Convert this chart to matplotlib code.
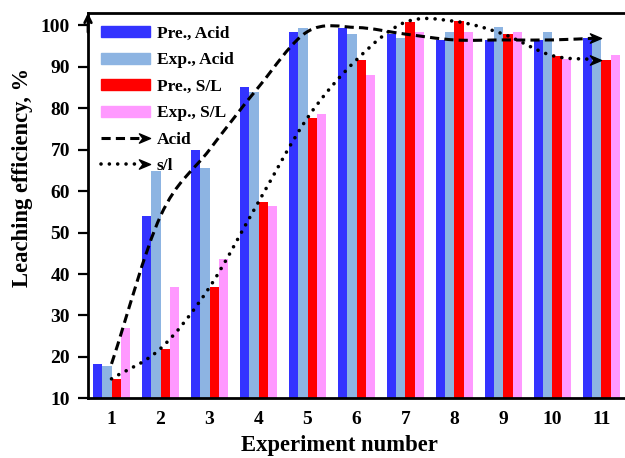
import numpy as np
import matplotlib
matplotlib.use('Agg')
import matplotlib.pyplot as plt
from matplotlib.path import Path
from matplotlib.patches import PathPatch, Patch
from matplotlib.lines import Line2D
from matplotlib.legend_handler import HandlerBase

plt.rcParams['font.family'] = ['Liberation Serif', 'DejaVu Serif']
plt.rcParams['font.weight'] = 'bold'

# data
experiments = np.arange(1, 12)
pre_acid = [18.3, 54.0, 70.0, 85.1, 98.5, 99.5, 97.9, 96.5, 96.5, 96.5, 97.0]
exp_acid = [17.7, 64.9, 65.5, 83.9, 99.5, 97.9, 97.0, 98.3, 99.6, 98.5, 97.0]
pre_sl = [14.7, 22.0, 36.8, 57.4, 77.7, 91.7, 100.8, 101.0, 97.9, 92.7, 91.7]
exp_sl = [26.9, 36.8, 43.6, 56.4, 78.6, 88.1, 98.3, 98.3, 98.3, 92.0, 92.8]

bar_labels = ['Pre., Acid', 'Exp., Acid', 'Pre., S/L', 'Exp., S/L']
bar_colors = ['#3333FF', '#8DB4E2', '#FF0000', '#FF99FF']
yticks = list(range(10, 101, 10))

# arrow head marker, tip at the origin
arrow_head = Path([(0, 0), (-1, 0.42), (-0.68, 0), (-1, -0.42), (0, 0)],
                  [Path.MOVETO, Path.LINETO, Path.LINETO, Path.LINETO, Path.CLOSEPOLY])

dash_style = dict(linestyle=(0, (3.0, 1.7)), linewidth=2.2)
dot_style = dict(linestyle=(0, (0.01, 2.3)), linewidth=2.6)


def smooth_path(x, y):
    # Catmull-Rom through the points, drawn as cubic bezier segments
    x = np.asarray(x, float)
    y = np.asarray(y, float)
    n = len(x)
    m = np.zeros((n, 2))
    for i in range(n):
        a = max(i - 1, 0)
        b = min(i + 1, n - 1)
        m[i] = [(x[b] - x[a]) / (b - a), (y[b] - y[a]) / (b - a)]
    verts = [(x[0], y[0])]
    codes = [Path.MOVETO]
    for i in range(n - 1):
        verts += [(x[i] + m[i, 0] / 3, y[i] + m[i, 1] / 3),
                  (x[i + 1] - m[i + 1, 0] / 3, y[i + 1] - m[i + 1, 1] / 3),
                  (x[i + 1], y[i + 1])]
        codes += [Path.CURVE4] * 3
    return Path(verts, codes)


class ArrowLineHandler(HandlerBase):
    def create_artists(self, legend, orig, xdescent, ydescent, width, height, fontsize, trans):
        y = height / 2 - ydescent
        x0 = -xdescent
        x1 = width - xdescent
        line = Line2D([x0, x1 - 6], [y, y], color='k', linewidth=orig.get_linewidth(),
                      dash_capstyle=orig.get_dash_capstyle())
        if orig.get_dash_capstyle() == 'round':
            line.set_dashes(dot_style['linestyle'][1])
        else:
            line.set_dashes(dash_style['linestyle'][1])
        head = Line2D([x1], [y], marker=arrow_head, markersize=16, color='k', linestyle='none')
        line.set_transform(trans)
        head.set_transform(trans)
        return [line, head]


fig = plt.figure(figsize=(6.25, 4.58), dpi=100)
ax = fig.add_axes([88 / 625, 1 - 398.3 / 458, 1 - 88 / 625, (398.3 - 13) / 458])

w = 0.19
series = [pre_acid, exp_acid, pre_sl, exp_sl]
for k, vals in enumerate(series):
    ax.bar(experiments + (k - 1.5) * w, np.array(vals) - 10, width=w, bottom=10,
           color=bar_colors[k], edgecolor='none', zorder=2)

acid_curve = PathPatch(smooth_path(experiments, pre_acid), fill=False, edgecolor='k',
                       capstyle='butt', zorder=3, **dash_style)
sl_curve = PathPatch(smooth_path(experiments, pre_sl), fill=False, edgecolor='k',
                     capstyle='round', zorder=3, **dot_style)
ax.add_patch(acid_curve)
ax.add_patch(sl_curve)
ax.plot([experiments[-1]], [pre_acid[-1]], marker=arrow_head, markersize=16, color='k',
        linestyle='none', zorder=4)
ax.plot([experiments[-1]], [pre_sl[-1]], marker=arrow_head, markersize=16, color='k',
        linestyle='none', zorder=4)

ax.set_xlim(0.52, 11.48)
ax.set_ylim(10, 103)
ax.set_xticks(experiments)
ax.set_yticks(yticks)
ax.tick_params(axis='x', length=0, pad=9, labelsize=14)
ax.tick_params(axis='y', direction='out', length=7, width=1.6, pad=6, labelsize=14)
for lab in ax.get_xticklabels() + ax.get_yticklabels():
    lab.set_fontweight('bold')

ax.spines['right'].set_visible(False)
for s in ['left', 'bottom', 'top']:
    ax.spines[s].set_linewidth(2.0)
ax.annotate('', xy=(0, 1.0), xytext=(0, 0.95), xycoords='axes fraction',
            arrowprops=dict(arrowstyle='->', lw=2.0, color='k', shrinkA=0, shrinkB=0,
                            mutation_scale=12))

ax.set_xlabel('Experiment number', fontsize=16.3, fontweight='bold')
ax.set_ylabel('Leaching efficiency, %', fontsize=16.3, fontweight='bold')
ax.xaxis.set_label_coords(0.469, -0.095)
ax.yaxis.set_label_coords(-0.102, 0.572)

handles = [Patch(color=c, label=l) for c, l in zip(bar_colors, bar_labels)]
acid_handle = Line2D([], [], color='k', linewidth=dash_style['linewidth'], linestyle='--',
                     dash_capstyle='butt', label='Acid')
sl_handle = Line2D([], [], color='k', linewidth=dot_style['linewidth'], linestyle=':',
                   dash_capstyle='round', label='s/l')
handles += [acid_handle, sl_handle]
leg = ax.legend(handles=handles, loc='upper left', frameon=False, fontsize=12.5,
                handlelength=2.8, handleheight=0.6, handletextpad=0.4, labelspacing=0.6,
                borderaxespad=0.35, borderpad=0.4,
                handler_map={acid_handle: ArrowLineHandler(), sl_handle: ArrowLineHandler()})
for t in leg.get_texts():
    t.set_fontweight('bold')

fig.savefig('out.png', dpi=100)
